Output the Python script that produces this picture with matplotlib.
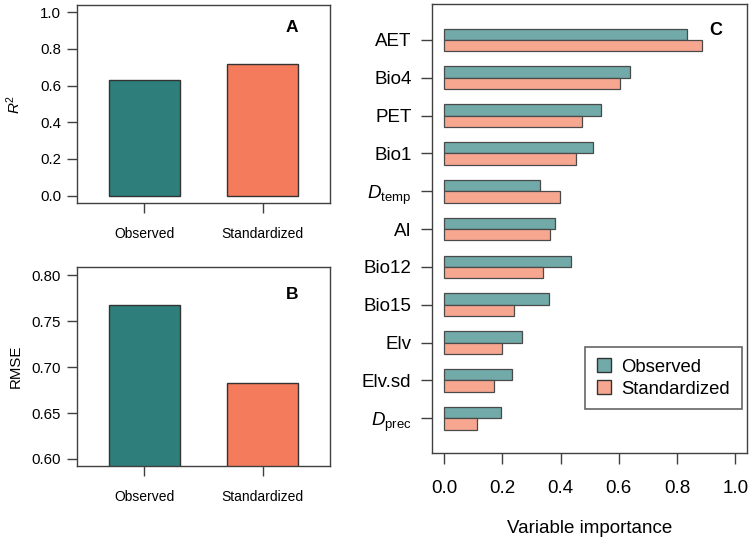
import matplotlib
matplotlib.use("Agg")
import matplotlib.pyplot as plt
from matplotlib.patches import Patch

plt.rcParams['font.family'] = ['Liberation Sans', 'DejaVu Sans']
plt.rcParams['mathtext.fontset'] = 'custom'
plt.rcParams['mathtext.rm'] = 'Liberation Sans'
plt.rcParams['mathtext.it'] = 'Liberation Sans:italic'
plt.rcParams['mathtext.bf'] = 'Liberation Sans:bold'

# ---- data ----
groups = ["Observed", "Standardized"]
r2_values = [0.631, 0.720]
rmse_values = [0.7677, 0.6831]

variables = ["AET", "Bio4", "PET", "Bio1", r"$D_{\mathrm{temp}}$", "AI",
             "Bio12", "Bio15", "Elv", "Elv.sd", r"$D_{\mathrm{prec}}$"]
imp_observed = [0.835, 0.637, 0.539, 0.511, 0.330, 0.382, 0.437, 0.359, 0.268, 0.235, 0.197]
imp_standardized = [0.887, 0.605, 0.473, 0.454, 0.398, 0.364, 0.340, 0.241, 0.199, 0.172, 0.113]
imp_ticks = [0.0, 0.2, 0.4, 0.6, 0.8, 1.0]

dark_colors = ["#2E7F7C", "#F47B5C"]
light_colors = ["#72AAAA", "#F7A690"]
edge = "#333333"
spine_c = "#404040"

fig = plt.figure(figsize=(7.5, 5.38), dpi=100)

def style_box(ax):
    for s in ax.spines.values():
        s.set_color(spine_c)
        s.set_linewidth(1.0)

# ---- Panel A ----
axA = fig.add_axes([0.1027, 0.6227, 0.3373, 0.368])
xs = list(range(len(groups)))
axA.bar(xs, r2_values, width=0.6, color=dark_colors, edgecolor=edge, linewidth=1.0)
axA.set_xlim(-0.568, 1.568)
axA.set_ylim(-0.04, 1.04)
axA.set_yticks([0.0, 0.2, 0.4, 0.6, 0.8, 1.0])
axA.set_yticklabels(["0.0", "0.2", "0.4", "0.6", "0.8", "1.0"])
axA.set_xticks(xs)
axA.set_xticklabels(groups)
axA.tick_params(axis='y', length=7, width=1, color=spine_c, pad=4.5, labelsize=10.8)
axA.tick_params(axis='x', length=7, width=1, color=spine_c, pad=10, labelsize=10)
axA.set_ylabel(r"$\mathit{R}^2$", fontsize=11, labelpad=12)
axA.text(0.85, 0.884, "A", transform=axA.transAxes, fontsize=12.5, fontweight='bold',
         ha='center', va='center')
style_box(axA)

# ---- Panel B ----
axB = fig.add_axes([0.1027, 0.1333, 0.3373, 0.3699])
axB.bar(xs, rmse_values, width=0.6, color=dark_colors, edgecolor=edge, linewidth=1.0)
axB.set_xlim(-0.568, 1.568)
axB.set_ylim(0.592, 0.8087)
axB.set_yticks([0.60, 0.65, 0.70, 0.75, 0.80])
axB.set_yticklabels(["0.60", "0.65", "0.70", "0.75", "0.80"])
axB.set_xticks(xs)
axB.set_xticklabels(groups)
axB.tick_params(axis='y', length=7, width=1, color=spine_c, pad=4.5, labelsize=10.8)
axB.tick_params(axis='x', length=7, width=1, color=spine_c, pad=10, labelsize=10)
axB.set_ylabel("RMSE", fontsize=10.8, labelpad=6)
axB.text(0.85, 0.861, "B", transform=axB.transAxes, fontsize=12.5, fontweight='bold',
         ha='center', va='center')
style_box(axB)

# ---- Panel C ----
axC = fig.add_axes([0.5764, 0.1586, 0.4196, 0.834])
n = len(variables)
ypos = [n - 1 - i for i in range(n)]
h = 0.3
axC.barh([y + h / 2 for y in ypos], imp_observed, height=h, color=light_colors[0],
         edgecolor="#4a4a4a", linewidth=0.9)
axC.barh([y - h / 2 for y in ypos], imp_standardized, height=h, color=light_colors[1],
         edgecolor="#4a4a4a", linewidth=0.9)
axC.set_xlim(-0.04, 1.04)
axC.set_ylim(-0.91, n - 1 + 0.95)
axC.set_yticks(ypos)
axC.set_yticklabels(variables)
axC.set_xticks(imp_ticks)
axC.set_xticklabels([f"{t:.1f}" for t in imp_ticks])
axC.tick_params(axis='y', length=8, width=1, color=spine_c, pad=7, labelsize=13.5)
axC.tick_params(axis='x', length=8, width=1, color=spine_c, pad=12, labelsize=13.5)
axC.set_xlabel("Variable importance", fontsize=13.5, labelpad=16)
axC.text(0.9, 0.94, "C", transform=axC.transAxes, fontsize=13, fontweight='bold',
         ha='center', va='center')
style_box(axC)

handles = [Patch(facecolor=light_colors[0], edgecolor="#333333", linewidth=1.0),
           Patch(facecolor=light_colors[1], edgecolor="#333333", linewidth=1.0)]
leg = axC.legend(handles, groups, loc='lower right', bbox_to_anchor=(0.983, 0.0967),
                 fontsize=13.3, frameon=True, fancybox=False, edgecolor="#404040",
                 handlelength=0.8, handleheight=0.8, handletextpad=0.55,
                 labelspacing=0.25, borderpad=0.62, borderaxespad=0.0)
leg.get_frame().set_linewidth(1.2)

fig.savefig("out.png", dpi=100)
